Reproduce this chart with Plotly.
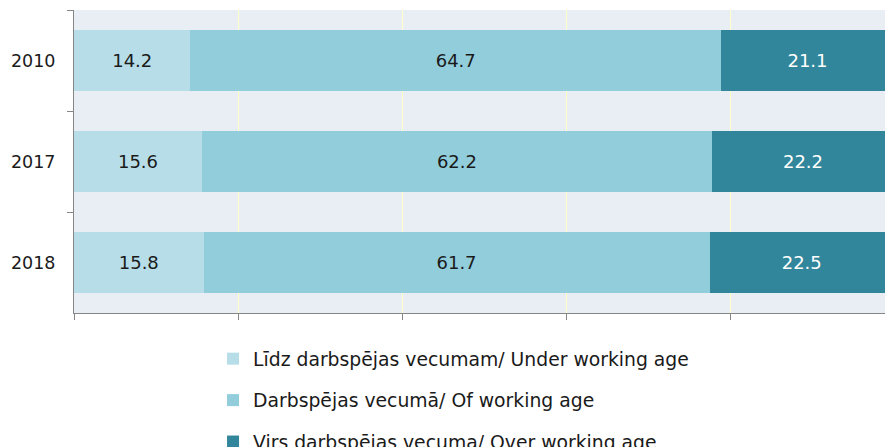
import plotly.graph_objects as go

years = ["2010", "2017", "2018"]
under_working = [14.2, 15.6, 15.8]
of_working = [64.7, 62.2, 61.7]
over_working = [21.1, 22.2, 22.5]
series_names = [
    "Līdz darbspējas vecumam/ Under working age",
    "Darbspējas vecumā/ Of working age",
    "Virs darbspējas vecuma/ Over working age",
]
colors = ["#B7DEE8", "#92CDDC", "#31869B"]
text_colors = ["#1a1a1a", "#1a1a1a", "#ffffff"]

FONT = "DejaVu Sans, Verdana, sans-serif"

fig = go.Figure()
for i, (name, vals) in enumerate(zip(series_names, [under_working, of_working, over_working])):
    fig.add_trace(go.Bar(
        y=years, x=vals, name=name, orientation="h",
        marker=dict(color=colors[i], line=dict(width=0)),
        text=[f"{v:.1f}" for v in vals], textposition="inside",
        insidetextanchor="middle", textangle=0,
        textfont=dict(color=text_colors[i], size=18, family=FONT),
        legendgroup=f"g{i}",
        hoverinfo="skip",
    ))

fig.update_layout(
    barmode="stack",
    bargap=0.4,
    width=894, height=447,
    margin=dict(l=74, r=0, t=10, b=134, autoexpand=False),
    paper_bgcolor="white",
    plot_bgcolor="#E9EDF4",
    font=dict(family=FONT, size=17.5, color="#1a1a1a"),
    legend=dict(
        orientation="v", xref="container", yref="container",
        x=0.2383, y=0.2395, xanchor="left", yanchor="top",
        traceorder="grouped", tracegroupgap=14,
        font=dict(size=18.8, family=FONT, color="#1a1a1a"),
        bgcolor="rgba(0,0,0,0)",
    ),
    showlegend=True,
)
fig.update_xaxes(
    range=[0, 100], dtick=20, tick0=0, showticklabels=False,
    ticks="outside", ticklen=6, tickcolor="#868686",
    showline=True, linecolor="#868686", linewidth=1,
    showgrid=True, gridcolor="#FFFFC8", gridwidth=1, zeroline=False,
)
fig.update_yaxes(
    type="category", autorange="reversed", tickson="boundaries",
    ticks="outside", ticklen=6, tickcolor="#868686",
    showline=True, linecolor="#868686", linewidth=1,
    showgrid=False, ticklabelstandoff=14,
)
fig.write_html(
    "out.html",
    config={"displayModeBar": False},
    post_script=(
        "document.documentElement.style.overflow='hidden';"
        "document.body.style.overflow='hidden';"
        "document.body.style.margin='0';"
    ),
)
